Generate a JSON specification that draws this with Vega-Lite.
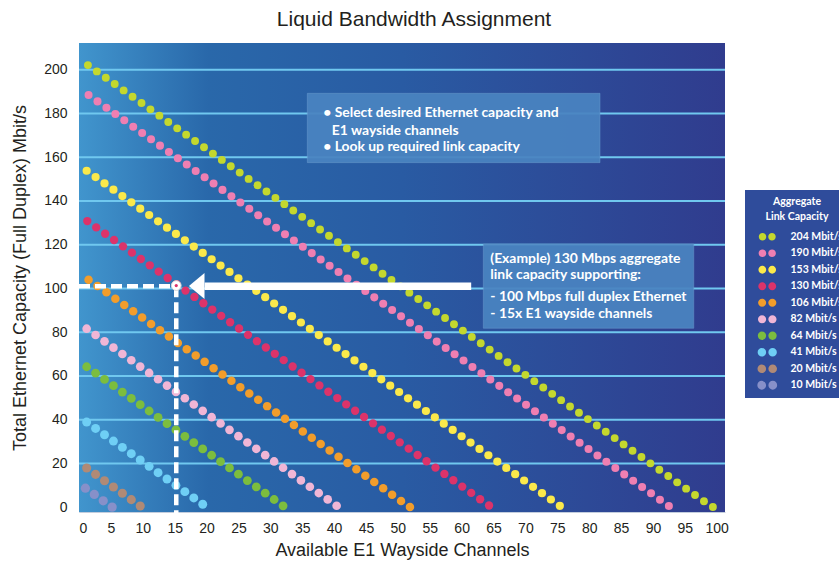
{
"$schema":"https://vega.github.io/schema/vega-lite/v6.json",
"width":646,"height":469,
"autosize":{"type":"none"},
"padding":{"left":79,"top":43,"right":114,"bottom":51},
"background":"white",
"title":{"text":"Liquid Bandwidth Assignment","font":"Liberation Sans","fontSize":21,"fontWeight":"normal","color":"#231f20","offset":13,"dx":12},
"config":{"view":{"stroke":null},
 "axis":{"labelFont":"Liberation Sans","labelFontSize":14,"labelColor":"#231f20","titleFont":"Liberation Sans","titleFontSize":18,"titleFontWeight":"normal","titleColor":"#231f20","ticks":false,"tickSize":0,"grid":false,"domainColor":"#c3cddd","domainWidth":1,"labelOverlap":false},
 "axisX":{"tickCount":21},"axisY":{"tickCount":11}},
"datasets":{
"dots":[
{"c":"204","x":1.4,"y":202.1},{"c":"204","x":2.8,"y":199.21},{"c":"204","x":4.2,"y":196.32},{"c":"204","x":5.6,"y":193.43},{"c":"204","x":7,"y":190.54},{"c":"204","x":8.4,"y":187.65},{"c":"204","x":9.8,"y":184.76},{"c":"204","x":11.2,"y":181.87},{"c":"204","x":12.6,"y":178.98},{"c":"204","x":14,"y":176.09},{"c":"204","x":15.4,"y":173.2},{"c":"204","x":16.8,"y":170.31},{"c":"204","x":18.2,"y":167.42},{"c":"204","x":19.6,"y":164.53},{"c":"204","x":21,"y":161.64},{"c":"204","x":22.4,"y":158.75},{"c":"204","x":23.8,"y":155.86},{"c":"204","x":25.2,"y":152.97},{"c":"204","x":26.6,"y":150.08},{"c":"204","x":28,"y":147.19},{"c":"204","x":29.4,"y":144.3},{"c":"204","x":30.8,"y":141.41},{"c":"204","x":32.2,"y":138.52},{"c":"204","x":33.6,"y":135.63},{"c":"204","x":35,"y":132.74},{"c":"204","x":36.4,"y":129.85},{"c":"204","x":37.8,"y":126.96},{"c":"204","x":39.2,"y":124.07},{"c":"204","x":40.6,"y":121.18},{"c":"204","x":42,"y":118.29},{"c":"204","x":43.4,"y":115.4},{"c":"204","x":44.8,"y":112.51},{"c":"204","x":46.2,"y":109.62},{"c":"204","x":47.6,"y":106.73},{"c":"204","x":49,"y":103.84},{"c":"204","x":50.4,"y":100.95},{"c":"204","x":51.8,"y":98.06},{"c":"204","x":53.2,"y":95.17},{"c":"204","x":54.6,"y":92.28},{"c":"204","x":56,"y":89.39},{"c":"204","x":57.4,"y":86.5},{"c":"204","x":58.8,"y":83.61},{"c":"204","x":60.2,"y":80.72},{"c":"204","x":61.6,"y":77.83},{"c":"204","x":63,"y":74.94},{"c":"204","x":64.4,"y":72.05},{"c":"204","x":65.8,"y":69.16},{"c":"204","x":67.2,"y":66.27},{"c":"204","x":68.6,"y":63.38},{"c":"204","x":70,"y":60.49},{"c":"204","x":71.4,"y":57.6},{"c":"204","x":72.8,"y":54.71},{"c":"204","x":74.2,"y":51.82},{"c":"204","x":75.6,"y":48.93},{"c":"204","x":77,"y":46.04},{"c":"204","x":78.4,"y":43.15},{"c":"204","x":79.8,"y":40.26},{"c":"204","x":81.2,"y":37.37},{"c":"204","x":82.6,"y":34.48},{"c":"204","x":84,"y":31.59},{"c":"204","x":85.4,"y":28.7},{"c":"204","x":86.8,"y":25.81},{"c":"204","x":88.2,"y":22.92},{"c":"204","x":89.6,"y":20.03},{"c":"204","x":91,"y":17.14},{"c":"204","x":92.4,"y":14.25},{"c":"204","x":93.8,"y":11.36},{"c":"204","x":95.2,"y":8.47},{"c":"204","x":96.6,"y":5.58},{"c":"204","x":98,"y":2.69},{"c":"204","x":99.4,"y":0.1},
{"c":"190","x":1.5,"y":188.4},{"c":"190","x":2.9,"y":185.51},{"c":"190","x":4.3,"y":182.62},{"c":"190","x":5.7,"y":179.73},{"c":"190","x":7.1,"y":176.84},{"c":"190","x":8.5,"y":173.95},{"c":"190","x":9.9,"y":171.06},{"c":"190","x":11.3,"y":168.17},{"c":"190","x":12.7,"y":165.28},{"c":"190","x":14.1,"y":162.39},{"c":"190","x":15.5,"y":159.5},{"c":"190","x":16.9,"y":156.61},{"c":"190","x":18.3,"y":153.72},{"c":"190","x":19.7,"y":150.83},{"c":"190","x":21.1,"y":147.94},{"c":"190","x":22.5,"y":145.05},{"c":"190","x":23.9,"y":142.16},{"c":"190","x":25.3,"y":139.27},{"c":"190","x":26.7,"y":136.38},{"c":"190","x":28.1,"y":133.49},{"c":"190","x":29.5,"y":130.6},{"c":"190","x":30.9,"y":127.71},{"c":"190","x":32.3,"y":124.82},{"c":"190","x":33.7,"y":121.93},{"c":"190","x":35.1,"y":119.04},{"c":"190","x":36.5,"y":116.15},{"c":"190","x":37.9,"y":113.26},{"c":"190","x":39.3,"y":110.37},{"c":"190","x":40.7,"y":107.48},{"c":"190","x":42.1,"y":104.59},{"c":"190","x":43.5,"y":101.7},{"c":"190","x":44.9,"y":98.81},{"c":"190","x":46.3,"y":95.92},{"c":"190","x":47.7,"y":93.03},{"c":"190","x":49.1,"y":90.14},{"c":"190","x":50.5,"y":87.25},{"c":"190","x":51.9,"y":84.36},{"c":"190","x":53.3,"y":81.47},{"c":"190","x":54.7,"y":78.58},{"c":"190","x":56.1,"y":75.69},{"c":"190","x":57.5,"y":72.8},{"c":"190","x":58.9,"y":69.91},{"c":"190","x":60.3,"y":67.02},{"c":"190","x":61.7,"y":64.13},{"c":"190","x":63.1,"y":61.24},{"c":"190","x":64.5,"y":58.35},{"c":"190","x":65.9,"y":55.46},{"c":"190","x":67.3,"y":52.57},{"c":"190","x":68.7,"y":49.68},{"c":"190","x":70.1,"y":46.79},{"c":"190","x":71.5,"y":43.9},{"c":"190","x":72.9,"y":41.01},{"c":"190","x":74.3,"y":38.12},{"c":"190","x":75.7,"y":35.23},{"c":"190","x":77.1,"y":32.34},{"c":"190","x":78.5,"y":29.45},{"c":"190","x":79.9,"y":26.56},{"c":"190","x":81.3,"y":23.67},{"c":"190","x":82.7,"y":20.78},{"c":"190","x":84.1,"y":17.89},{"c":"190","x":85.5,"y":15},{"c":"190","x":86.9,"y":12.11},{"c":"190","x":88.3,"y":9.22},{"c":"190","x":89.7,"y":6.33},{"c":"190","x":91.1,"y":3.44},{"c":"190","x":92.5,"y":0.55},
{"c":"153","x":1.2,"y":153.8},{"c":"153","x":2.6,"y":150.91},{"c":"153","x":4,"y":148.02},{"c":"153","x":5.4,"y":145.13},{"c":"153","x":6.8,"y":142.24},{"c":"153","x":8.2,"y":139.35},{"c":"153","x":9.6,"y":136.46},{"c":"153","x":11,"y":133.57},{"c":"153","x":12.4,"y":130.68},{"c":"153","x":13.8,"y":127.79},{"c":"153","x":15.2,"y":124.9},{"c":"153","x":16.6,"y":122.01},{"c":"153","x":18,"y":119.12},{"c":"153","x":19.4,"y":116.23},{"c":"153","x":20.8,"y":113.34},{"c":"153","x":22.2,"y":110.45},{"c":"153","x":23.6,"y":107.56},{"c":"153","x":25,"y":104.67},{"c":"153","x":26.4,"y":101.78},{"c":"153","x":27.8,"y":98.89},{"c":"153","x":29.2,"y":96},{"c":"153","x":30.6,"y":93.11},{"c":"153","x":32,"y":90.22},{"c":"153","x":33.4,"y":87.33},{"c":"153","x":34.8,"y":84.44},{"c":"153","x":36.2,"y":81.55},{"c":"153","x":37.6,"y":78.66},{"c":"153","x":39,"y":75.77},{"c":"153","x":40.4,"y":72.88},{"c":"153","x":41.8,"y":69.99},{"c":"153","x":43.2,"y":67.1},{"c":"153","x":44.6,"y":64.21},{"c":"153","x":46,"y":61.32},{"c":"153","x":47.4,"y":58.43},{"c":"153","x":48.8,"y":55.54},{"c":"153","x":50.2,"y":52.65},{"c":"153","x":51.6,"y":49.76},{"c":"153","x":53,"y":46.87},{"c":"153","x":54.4,"y":43.98},{"c":"153","x":55.8,"y":41.09},{"c":"153","x":57.2,"y":38.2},{"c":"153","x":58.6,"y":35.31},{"c":"153","x":60,"y":32.42},{"c":"153","x":61.4,"y":29.53},{"c":"153","x":62.8,"y":26.64},{"c":"153","x":64.2,"y":23.75},{"c":"153","x":65.6,"y":20.86},{"c":"153","x":67,"y":17.97},{"c":"153","x":68.4,"y":15.08},{"c":"153","x":69.8,"y":12.19},{"c":"153","x":71.2,"y":9.3},{"c":"153","x":72.6,"y":6.41},{"c":"153","x":74,"y":3.52},{"c":"153","x":75.4,"y":0.63},
{"c":"130","x":1.3,"y":130.8},{"c":"130","x":2.7,"y":127.91},{"c":"130","x":4.1,"y":125.02},{"c":"130","x":5.5,"y":122.13},{"c":"130","x":6.9,"y":119.24},{"c":"130","x":8.3,"y":116.35},{"c":"130","x":9.7,"y":113.46},{"c":"130","x":11.1,"y":110.57},{"c":"130","x":12.5,"y":107.68},{"c":"130","x":13.9,"y":104.79},{"c":"130","x":15.3,"y":101.9},{"c":"130","x":16.7,"y":99.01},{"c":"130","x":18.1,"y":96.12},{"c":"130","x":19.5,"y":93.23},{"c":"130","x":20.9,"y":90.34},{"c":"130","x":22.3,"y":87.45},{"c":"130","x":23.7,"y":84.56},{"c":"130","x":25.1,"y":81.67},{"c":"130","x":26.5,"y":78.78},{"c":"130","x":27.9,"y":75.89},{"c":"130","x":29.3,"y":73},{"c":"130","x":30.7,"y":70.11},{"c":"130","x":32.1,"y":67.22},{"c":"130","x":33.5,"y":64.33},{"c":"130","x":34.9,"y":61.44},{"c":"130","x":36.3,"y":58.55},{"c":"130","x":37.7,"y":55.66},{"c":"130","x":39.1,"y":52.77},{"c":"130","x":40.5,"y":49.88},{"c":"130","x":41.9,"y":46.99},{"c":"130","x":43.3,"y":44.1},{"c":"130","x":44.7,"y":41.21},{"c":"130","x":46.1,"y":38.32},{"c":"130","x":47.5,"y":35.43},{"c":"130","x":48.9,"y":32.54},{"c":"130","x":50.3,"y":29.65},{"c":"130","x":51.7,"y":26.76},{"c":"130","x":53.1,"y":23.87},{"c":"130","x":54.5,"y":20.98},{"c":"130","x":55.9,"y":18.09},{"c":"130","x":57.3,"y":15.2},{"c":"130","x":58.7,"y":12.31},{"c":"130","x":60.1,"y":9.42},{"c":"130","x":61.5,"y":6.53},{"c":"130","x":62.9,"y":3.64},{"c":"130","x":64.3,"y":0.75},
{"c":"106","x":1.5,"y":104},{"c":"106","x":2.9,"y":101.11},{"c":"106","x":4.3,"y":98.22},{"c":"106","x":5.7,"y":95.33},{"c":"106","x":7.1,"y":92.44},{"c":"106","x":8.5,"y":89.55},{"c":"106","x":9.9,"y":86.66},{"c":"106","x":11.3,"y":83.77},{"c":"106","x":12.7,"y":80.88},{"c":"106","x":14.1,"y":77.99},{"c":"106","x":15.5,"y":75.1},{"c":"106","x":16.9,"y":72.21},{"c":"106","x":18.3,"y":69.32},{"c":"106","x":19.7,"y":66.43},{"c":"106","x":21.1,"y":63.54},{"c":"106","x":22.5,"y":60.65},{"c":"106","x":23.9,"y":57.76},{"c":"106","x":25.3,"y":54.87},{"c":"106","x":26.7,"y":51.98},{"c":"106","x":28.1,"y":49.09},{"c":"106","x":29.5,"y":46.2},{"c":"106","x":30.9,"y":43.31},{"c":"106","x":32.3,"y":40.42},{"c":"106","x":33.7,"y":37.53},{"c":"106","x":35.1,"y":34.64},{"c":"106","x":36.5,"y":31.75},{"c":"106","x":37.9,"y":28.86},{"c":"106","x":39.3,"y":25.97},{"c":"106","x":40.7,"y":23.08},{"c":"106","x":42.1,"y":20.19},{"c":"106","x":43.5,"y":17.3},{"c":"106","x":44.9,"y":14.41},{"c":"106","x":46.3,"y":11.52},{"c":"106","x":47.7,"y":8.63},{"c":"106","x":49.1,"y":5.74},{"c":"106","x":50.5,"y":2.85},{"c":"106","x":51.9,"y":0.1},
{"c":"82","x":1.2,"y":81.6},{"c":"82","x":2.6,"y":78.71},{"c":"82","x":4,"y":75.82},{"c":"82","x":5.4,"y":72.93},{"c":"82","x":6.8,"y":70.04},{"c":"82","x":8.2,"y":67.15},{"c":"82","x":9.6,"y":64.26},{"c":"82","x":11,"y":61.37},{"c":"82","x":12.4,"y":58.48},{"c":"82","x":13.8,"y":55.59},{"c":"82","x":15.2,"y":52.7},{"c":"82","x":16.6,"y":49.81},{"c":"82","x":18,"y":46.92},{"c":"82","x":19.4,"y":44.03},{"c":"82","x":20.8,"y":41.14},{"c":"82","x":22.2,"y":38.25},{"c":"82","x":23.6,"y":35.36},{"c":"82","x":25,"y":32.47},{"c":"82","x":26.4,"y":29.58},{"c":"82","x":27.8,"y":26.69},{"c":"82","x":29.2,"y":23.8},{"c":"82","x":30.6,"y":20.91},{"c":"82","x":32,"y":18.02},{"c":"82","x":33.4,"y":15.13},{"c":"82","x":34.8,"y":12.24},{"c":"82","x":36.2,"y":9.35},{"c":"82","x":37.6,"y":6.46},{"c":"82","x":39,"y":3.57},{"c":"82","x":40.4,"y":0.68},
{"c":"64","x":1.2,"y":64.2},{"c":"64","x":2.6,"y":61.31},{"c":"64","x":4,"y":58.42},{"c":"64","x":5.4,"y":55.53},{"c":"64","x":6.8,"y":52.64},{"c":"64","x":8.2,"y":49.75},{"c":"64","x":9.6,"y":46.86},{"c":"64","x":11,"y":43.97},{"c":"64","x":12.4,"y":41.08},{"c":"64","x":13.8,"y":38.19},{"c":"64","x":15.2,"y":35.3},{"c":"64","x":16.6,"y":32.41},{"c":"64","x":18,"y":29.52},{"c":"64","x":19.4,"y":26.63},{"c":"64","x":20.8,"y":23.74},{"c":"64","x":22.2,"y":20.85},{"c":"64","x":23.6,"y":17.96},{"c":"64","x":25,"y":15.07},{"c":"64","x":26.4,"y":12.18},{"c":"64","x":27.8,"y":9.29},{"c":"64","x":29.2,"y":6.4},{"c":"64","x":30.6,"y":3.51},{"c":"64","x":32,"y":0.62},
{"c":"41","x":1.2,"y":38.9},{"c":"41","x":2.6,"y":36.01},{"c":"41","x":4,"y":33.12},{"c":"41","x":5.4,"y":30.23},{"c":"41","x":6.8,"y":27.34},{"c":"41","x":8.2,"y":24.45},{"c":"41","x":9.6,"y":21.56},{"c":"41","x":11,"y":18.67},{"c":"41","x":12.4,"y":15.78},{"c":"41","x":13.8,"y":12.89},{"c":"41","x":15.2,"y":10},{"c":"41","x":16.6,"y":7.11},{"c":"41","x":18,"y":4.22},{"c":"41","x":19.4,"y":1.33},
{"c":"20","x":1.2,"y":17.9},{"c":"20","x":2.6,"y":15.01},{"c":"20","x":4,"y":12.12},{"c":"20","x":5.4,"y":9.23},{"c":"20","x":6.8,"y":6.34},{"c":"20","x":8.2,"y":3.45},{"c":"20","x":9.6,"y":0.56},
{"c":"10","x":1,"y":8.7},{"c":"10","x":2.4,"y":5.81},{"c":"10","x":3.8,"y":2.92},{"c":"10","x":5.2,"y":0.03}
],
"grid":[{"g":20},{"g":40},{"g":60},{"g":80},{"g":100},{"g":120},{"g":140},{"g":160},{"g":180},{"g":200}],
"boxes":[{"x1":35.8,"x2":81.7,"y1":189.2,"y2":157.5},{"x1":63.4,"x2":96.4,"y1":120.3,"y2":81.8}],
"notes":[
{"t":"• Select desired Ethernet capacity and","x":38.3,"y":180.1},
{"t":"E1 wayside channels","x":39.65,"y":172.1},
{"t":"• Look up required link capacity","x":38.3,"y":164.5},
{"t":"(Example) 130 Mbps aggregate","x":64.5,"y":113.4},
{"t":"link capacity supporting:","x":64.5,"y":106.1},
{"t":"- 100 Mbps full duplex Ethernet","x":64.5,"y":95.9},
{"t":"- 15x E1 wayside channels","x":64.5,"y":88.2}],
"dashes":[{"x1":0,"x2":15.25,"y1":101,"y2":101},{"x1":15.25,"x2":15.25,"y1":101,"y2":-8.5}],
"arrow":[{"x1":19.7,"x2":61.5,"y":101}],
"head":[{"x":18.46,"y":101.1}],
"marker":[{"x":15.25,"y":101.3}]
},
"layer":[
{"data":{"values":[{"a":1}]},"mark":{"type":"rect","fill":{"gradient":"linear","x1":0,"y1":0,"x2":1,"y2":0,"stops":[{"offset":0,"color":"#4195cd"},{"offset":0.2,"color":"#2968aa"},{"offset":0.5,"color":"#295ba3"},{"offset":1,"color":"#303c8e"}]}},
 "encoding":{
  "x":{"datum":0,"type":"quantitative","scale":{"domain":[0,101.3],"nice":false,"zero":false},"axis":{"values":[0,5,10,15,20,25,30,35,40,45,50,55,60,65,70,75,80,85,90,95,100],"title":"Available E1 Wayside Channels","labelPadding":9,"titlePadding":6,"labelOverlap":false}},
  "x2":{"datum":101.3},
  "y":{"datum":-2.2,"type":"quantitative","scale":{"domain":[-2.2,212.2],"nice":false,"zero":false},"axis":{"values":[0,20,40,60,80,100,120,140,160,180,200],"title":"Total Ethernet Capacity (Full Duplex) Mbit/s","labelPadding":12,"titlePadding":14}},
  "y2":{"datum":212.2}}},
{"data":{"name":"grid"},"mark":{"type":"rule","color":"#70c8ef","strokeWidth":2},
 "encoding":{"y":{"field":"g","type":"quantitative"}}},
{"data":{"name":"dots"},"mark":{"type":"circle","opacity":1},
 "encoding":{
  "x":{"field":"x","type":"quantitative","axis":{"values":[0,5,10,15,20,25,30,35,40,45,50,55,60,65,70,75,80,85,90,95,100],"labelOverlap":false}},
  "y":{"field":"y","type":"quantitative"},
  "color":{"field":"c","type":"nominal","sort":null,
   "scale":{"domain":["204","190","153","130","106","82","64","41","20","10"],"range":["#c4d82e","#ef7fb2","#fbe94b","#dc336a","#f29d2b","#f0b6d6","#7cbd3e","#6fcff5","#b08a76","#8790c9"]},
   "legend":{"orient":"none","legendX":666,"legendY":147,"title":["Aggregate","Link Capacity"],"titleFont":"Lato","titleFontSize":10.5,"titleFontWeight":"bold","titleColor":"white","titleAnchor":"middle","titleAlign":"center","titleLineHeight":15,"titlePadding":9,"labelFont":"Lato","labelFontSize":10.5,"labelFontWeight":"bold","labelColor":"white","labelExpr":"datum.label + ' Mbit/s'","labelOffset":18,"symbolType":"M-2.15,0A0.95,0.95,0,1,0,-0.25,0A0.95,0.95,0,1,0,-2.15,0ZM0.25,0A0.95,0.95,0,1,0,2.15,0A0.95,0.95,0,1,0,0.25,0Z","symbolSize":84,"symbolOffset":10,"symbolStrokeWidth":0,"symbolOpacity":1,"fillColor":"#2f4c9b","padding":7,"rowPadding":5.5}},
  "size":{"field":"c","type":"nominal","scale":{"domain":["204","190","153","130","106","82","64","41","20","10"],"range":[62,85,62,66,64,62,62,62,62,60]},"legend":null}}},
{"data":{"name":"boxes"},"mark":{"type":"rect","fill":"#4a84c1","opacity":0.93,"stroke":"#6f9fd0","strokeWidth":0.5},
 "encoding":{"x":{"field":"x1","type":"quantitative"},"x2":{"field":"x2"},"y":{"field":"y1","type":"quantitative"},"y2":{"field":"y2"}}},
{"data":{"name":"notes"},"mark":{"type":"text","align":"left","baseline":"middle","font":"Lato","fontSize":13.9,"fontWeight":"bold","color":"white"},
 "encoding":{"x":{"field":"x","type":"quantitative"},"y":{"field":"y","type":"quantitative"},"text":{"field":"t"}}},
{"data":{"name":"dashes"},"mark":{"type":"rule","color":"white","strokeWidth":4.5,"strokeDash":[11,5]},
 "encoding":{"x":{"field":"x1","type":"quantitative"},"x2":{"field":"x2"},"y":{"field":"y1","type":"quantitative"},"y2":{"field":"y2"}}},
{"data":{"name":"arrow"},"mark":{"type":"rule","color":"white","strokeWidth":7.5},
 "encoding":{"x":{"field":"x1","type":"quantitative"},"x2":{"field":"x2"},"y":{"field":"y","type":"quantitative"}}},
{"data":{"name":"head"},"mark":{"type":"point","filled":true,"fill":"white","opacity":1,"strokeWidth":0,"shape":"M-1,0L1,-1.667L1,1.667Z","size":243},
 "encoding":{"x":{"field":"x","type":"quantitative"},"y":{"field":"y","type":"quantitative"}}},
{"data":{"name":"marker"},"mark":{"type":"circle","fill":"white","opacity":1,"stroke":"#d8d8d8","strokeWidth":1,"size":95},
 "encoding":{"x":{"field":"x","type":"quantitative"},"y":{"field":"y","type":"quantitative"}}},
{"data":{"name":"marker"},"mark":{"type":"circle","fill":"#dc336a","opacity":1,"size":10},
 "encoding":{"x":{"field":"x","type":"quantitative"},"y":{"field":"y","type":"quantitative"}}}
]
}
